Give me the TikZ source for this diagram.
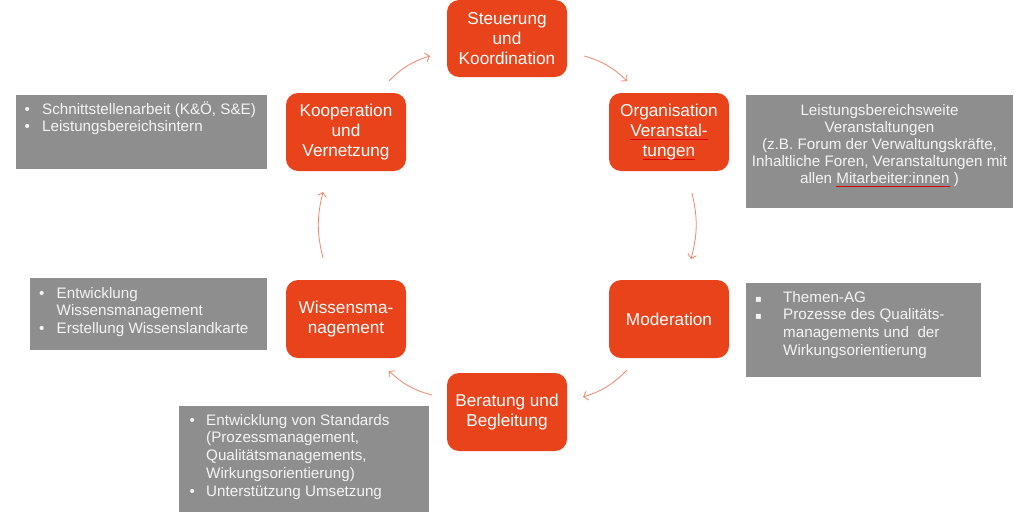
\documentclass[tikz,border=0pt]{standalone}
\usepackage{fontspec}
\setmainfont{Liberation Sans}
\newfontfamily\symfont{DejaVu Sans}
\usetikzlibrary{arrows.meta}
\definecolor{ora}{HTML}{E8431A}
\definecolor{gry}{HTML}{8E8E8E}
\definecolor{arrc}{HTML}{F0866A}
\definecolor{gtxt}{HTML}{F4F4F4}
\newsavebox\ulbox
\newcommand\redul[1]{\sbox\ulbox{#1}\rlap{\textcolor{red!85!black}{\rule[-2.5pt]{\wd\ulbox}{0.4pt}}}\usebox\ulbox}
\tikzset{
  obox/.style={fill=ora, rounded corners=12pt, minimum width=120pt, inner sep=0pt, outer sep=0pt,
    text=white, align=center, font=\fontsize{17.2}{20}\selectfont},
  gbox/.style={fill=gry, inner sep=0pt, outer sep=0pt, anchor=north west},
  gtext/.style={text=gtxt, inner sep=0pt, font=\fontsize{15.2}{17.8}\selectfont},
  arr/.style={draw=arrc, line width=0.8pt, -{Straight Barb[length=4pt,width=9pt]}}
}
\begin{document}
\begin{tikzpicture}[x=1pt,y=-1pt]
\useasboundingbox (0,0) rectangle (1024,525);
% orange nodes
\node[obox, minimum height=77pt] (steu) at (507,38.5) {Steuerung\\und\\Koordination};
\node[obox, minimum height=78pt] (org) at (669,132) {Organisation\\\redul{Veranstal-}\\\redul{tungen}};
\node[obox, minimum height=78pt] (koop) at (346,132) {Kooperation\\und\\Vernetzung};
\node[obox, minimum height=78pt] (wiss) at (346,319) {Wissensma-\\nagement};
\node[obox, minimum height=78pt] (mod) at (669,319) {Moderation};
\node[obox, minimum height=78pt] (ber) at (507,412) {Beratung und\\Begleitung};
% gray boxes
\node[gbox, minimum width=251pt, minimum height=74pt] (g1) at (16,95) {};
\node[gbox, minimum width=267pt, minimum height=113pt] (g2) at (746,95) {};
\node[gbox, minimum width=237pt, minimum height=72pt] (g3) at (30,278) {};
\node[gbox, minimum width=235pt, minimum height=94pt] (g4) at (746,283) {};
\node[gbox, minimum width=250pt, minimum height=106pt] (g5) at (179,406) {};
% gray texts
\node[gtext, anchor=base west] (t1) at (24.5,114) {\begin{tabular}[t]{@{}p{17.5pt}@{}l@{}}
• & Schnittstellenarbeit (K\&Ö, S\&E)\\
• & Leistungsbereichsintern
\end{tabular}};
\node[gtext, anchor=base, font=\fontsize{15.2}{17.2}\selectfont] (t2) at (879.5,115) {\begin{tabular}[t]{@{}c@{}}
Leistungsbereichsweite\\
Veranstaltungen\\
(z.B. Forum der Verwaltungskräfte,\\
Inhaltliche Foren, Veranstaltungen mit\\
allen \redul{Mitarbeiter:innen} )
\end{tabular}};
\node[gtext, anchor=base west] (t3) at (39,298) {\begin{tabular}[t]{@{}p{17.5pt}@{}l@{}}
• & Entwicklung\\
 & Wissensmanagement\\
• & Erstellung Wissenslandkarte
\end{tabular}};
\node[gtext, anchor=base west] (t4) at (755,302) {\begin{tabular}[t]{@{}p{28pt}@{}l@{}}
{\symfont\fontsize{10}{10}\selectfont ▪} & Themen-AG\\
{\symfont\fontsize{10}{10}\selectfont ▪} & Prozesse des Qualitäts-\\
 & managements und\ \ der\\
 & Wirkungsorientierung
\end{tabular}};
\node[gtext, anchor=base west] (t5) at (189.5,425) {\begin{tabular}[t]{@{}p{16.5pt}@{}l@{}}
• & Entwicklung von Standards\\
 & (Prozessmanagement,\\
 & Qualitätsmanagements,\\
 & Wirkungsorientierung)\\
• & Unterstützung Umsetzung
\end{tabular}};
% arrow end points
\coordinate (a1s) at (584,56);
\coordinate (a1e) at (627,81);
\coordinate (a2s) at (692,193);
\coordinate (a2e) at (691,259);
\coordinate (a3s) at (627,370);
\coordinate (a3e) at (583,397);
\coordinate (a4s) at (432,395);
\coordinate (a4e) at (389,371);
\coordinate (a5s) at (323,258);
\coordinate (a5e) at (323,192);
\coordinate (a6s) at (389,81);
\coordinate (a6e) at (430,56);
\draw[arr] (a1s) to[bend left=14] (a1e);
\draw[arr] (a2s) to[bend left=14] (a2e);
\draw[arr] (a3s) to[bend left=14] (a3e);
\draw[arr] (a4s) to[bend left=14] (a4e);
\draw[arr] (a5s) to[bend left=14] (a5e);
\draw[arr] (a6s) to[bend left=14] (a6e);
\end{tikzpicture}
\end{document}
